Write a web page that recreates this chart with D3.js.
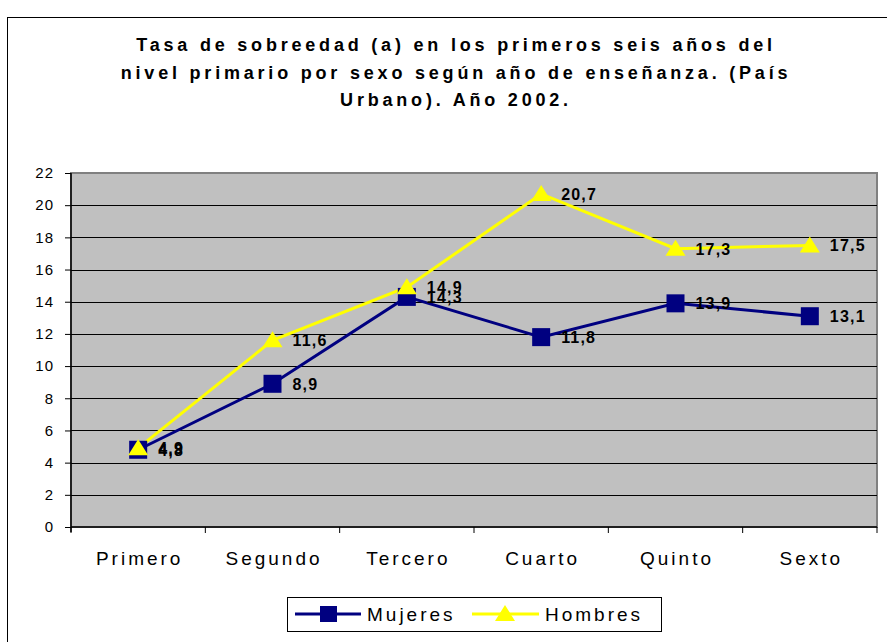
<!DOCTYPE html>
<html><head><meta charset="utf-8">
<script src="https://cdn.jsdelivr.net/npm/d3@7/dist/d3.min.js"></script>
<style>
html,body{margin:0;padding:0;background:#fff;}
svg{display:block;font-family:"Liberation Sans",Arial,sans-serif;}
</style></head>
<body><svg id="c" width="887" height="642"></svg>
<script>
const categories = ["Primero","Segundo","Tercero","Cuarto","Quinto","Sexto"];
const mujeres = [4.8, 8.9, 14.3, 11.8, 13.9, 13.1];
const hombres = [4.9, 11.6, 14.9, 20.7, 17.3, 17.5];
const yTicks = [0,2,4,6,8,10,12,14,16,18,20,22];
const titleLines = ["Tasa de sobreedad (a) en los primeros seis años del","nivel primario por sexo según año de enseñanza. (País","Urbano). Año 2002."];
const seriesNames = ["Mujeres","Hombres"];

const svg = d3.select("#c");
const fmt = v => String(v).replace(".", ",");

// outer frame
svg.append("rect").attr("x",7.5).attr("y",17.5).attr("width",900).attr("height",700)
  .attr("fill","#fff").attr("stroke","#000").attr("stroke-width",1);

// title
const title = svg.append("text").attr("text-anchor","middle")
  .attr("font-weight","bold").attr("font-size",18).attr("letter-spacing",3.8).attr("fill","#000");
titleLines.forEach((t,i)=>{
  title.append("tspan").attr("x",456).attr("y",51+i*27.5).text(t);
});

const L=71, R=877, T=173, B=527;
const x = d3.scaleBand().domain(categories).range([L,R]);
const y = d3.scaleLinear().domain([0,22]).range([B,T]);

// plot area
svg.append("rect").attr("x",L).attr("y",T).attr("width",R-L).attr("height",B-T)
  .attr("fill","#c0c0c0").attr("stroke","#808080").attr("stroke-width",2);

// gridlines
svg.append("g").selectAll("line").data(yTicks.filter(d=>d>0&&d<22)).join("line")
  .attr("x1",L).attr("x2",R).attr("y1",d=>Math.round(y(d))+0.5).attr("y2",d=>Math.round(y(d))+0.5)
  .attr("stroke","#000").attr("stroke-width",1);

// y axis
const yAxis = d3.axisLeft(y).tickValues(yTicks).tickSize(6).tickPadding(11).tickFormat(d=>d);
const gy = svg.append("g").attr("transform",`translate(${L},0)`).call(yAxis);
gy.select(".domain").attr("stroke","#000").attr("stroke-width",1.5).attr("d",`M0,${T}V${B+5}`);
gy.selectAll(".tick text").attr("font-size",15).attr("letter-spacing",1).attr("fill","#000").attr("font-family","Liberation Sans, Arial");
gy.selectAll(".tick line").attr("stroke","#000");

// x axis
const gx = svg.append("g").attr("transform",`translate(0,${B})`);
gx.append("line").attr("x1",L).attr("x2",R).attr("y1",0).attr("y2",0).attr("stroke","#000").attr("stroke-width",1.5);
const bounds = categories.map((c)=>x(c)).concat([R]);
gx.selectAll("line.tk").data(bounds).join("line").attr("class","tk")
  .attr("x1",d=>d).attr("x2",d=>d).attr("y1",0).attr("y2",6).attr("stroke","#000");
gx.selectAll("text").data(categories).join("text")
  .attr("x",d=>x(d)+x.bandwidth()/2+1.5).attr("y",38).attr("text-anchor","middle")
  .attr("font-size",19).attr("letter-spacing",3).attr("fill","#000").text(d=>d);

const cx = c => x(c)+x.bandwidth()/2;
const line = d3.line().x((d,i)=>cx(categories[i])).y(d=>y(d));

svg.append("path").datum(mujeres).attr("d",line).attr("fill","none").attr("stroke","#000080").attr("stroke-width",3);
svg.append("path").datum(hombres).attr("d",line).attr("fill","none").attr("stroke","#ffff00").attr("stroke-width",3);

const sq = 18;
svg.append("g").selectAll("rect").data(mujeres).join("rect")
  .attr("x",(d,i)=>cx(categories[i])-sq/2).attr("y",d=>y(d)-sq/2).attr("width",sq).attr("height",sq)
  .attr("fill","#000080");
const tri = (px,py)=>`M${px},${py-9}L${px+10},${py+7}L${px-10},${py+7}Z`;
svg.append("g").selectAll("path").data(hombres).join("path")
  .attr("d",(d,i)=>tri(cx(categories[i]),y(d))).attr("fill","#ffff00");

function labels(data){
  svg.append("g").selectAll("text").data(data).join("text")
    .attr("x",(d,i)=>cx(categories[i])+20).attr("y",d=>y(d)+6)
    .attr("font-size",16).attr("font-weight","bold").attr("letter-spacing",1.2).attr("fill","#000")
    .text(d=>fmt(d));
}
labels(mujeres);
labels(hombres);

// legend
const lg = svg.append("g");
lg.append("rect").attr("x",287.5).attr("y",597.5).attr("width",374).attr("height",34)
  .attr("fill","#fff").attr("stroke","#000").attr("stroke-width",1);
const ly = 614;
lg.append("line").attr("x1",295).attr("x2",361).attr("y1",ly).attr("y2",ly).attr("stroke","#000080").attr("stroke-width",3);
lg.append("rect").attr("x",320).attr("y",ly-8).attr("width",17).attr("height",16).attr("fill","#000080");
lg.append("text").attr("x",367).attr("y",ly+7).attr("font-size",19).attr("letter-spacing",3).text(seriesNames[0]);
lg.append("line").attr("x1",472).attr("x2",539).attr("y1",ly).attr("y2",ly).attr("stroke","#ffff00").attr("stroke-width",3);
lg.append("path").attr("d",tri(505,ly)).attr("fill","#ffff00");
lg.append("text").attr("x",545).attr("y",ly+7).attr("font-size",19).attr("letter-spacing",3).text(seriesNames[1]);
</script></body></html>
